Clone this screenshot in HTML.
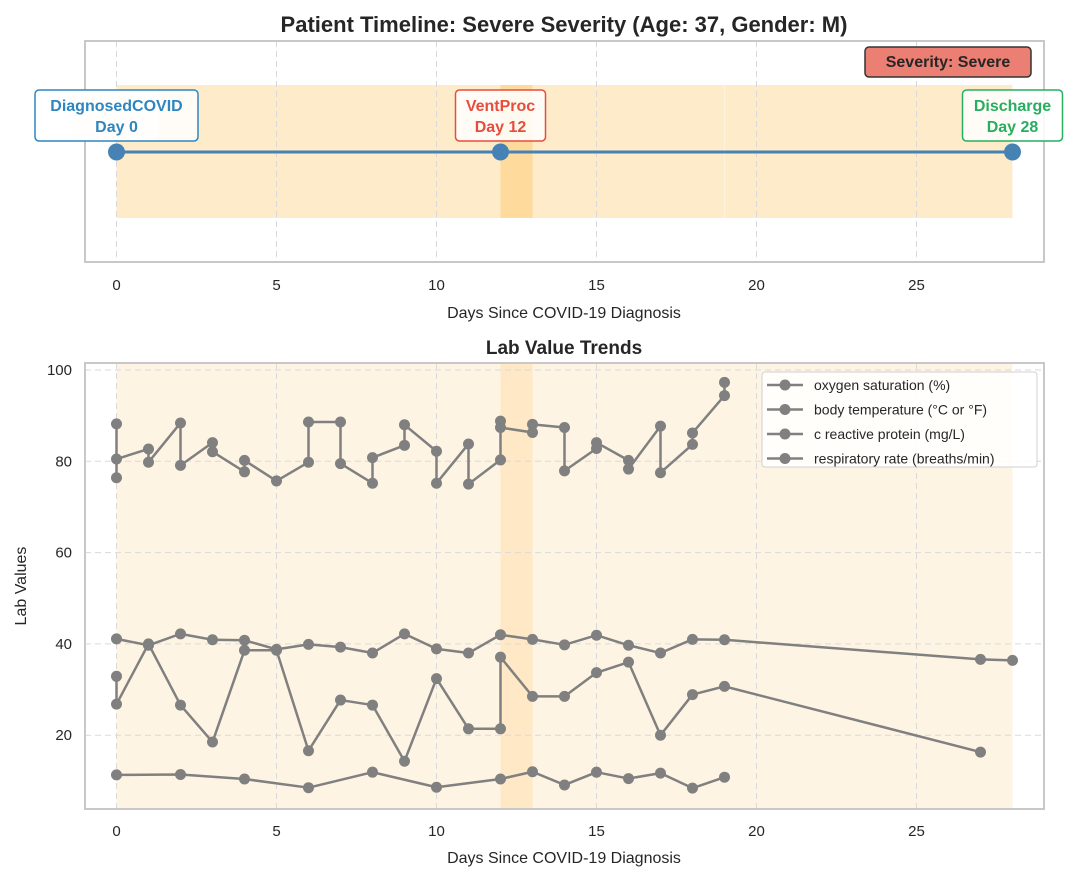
<!DOCTYPE html>
<html><head><meta charset="utf-8">
<style>
body{margin:0;background:#fff;}
svg{display:block;font-family:"Liberation Sans",Arial,sans-serif;}
</style></head>
<body>
<svg id="chart" width="1068" height="880" viewBox="0 0 1068 880">
<text x="564" y="32" text-anchor="middle" font-size="22" font-weight="bold" fill="#262626">Patient Timeline: Severe Severity (Age: 37, Gender: M)</text>
<g id="topPanel"></g>
<g id="bottomPanel"></g>
</svg>
<script>
const xTicks = [0,5,10,15,20,25];
const yTicks = [20,40,60,80,100];
const eventDays = [0,12,28];
const eventNames = ["DiagnosedCOVID","VentProc","Discharge"];
const procStart = [12];
const procEnd = [13];
const seriesNames = ["oxygen saturation (%)","body temperature (°C or °F)","c reactive protein (mg/L)","respiratory rate (breaths/min)"];
const s1Days = [0,0,0,1,1,2,2,3,3,4,4,5,6,6,7,7,8,8,9,9,10,10,11,11,12,12,12,13,13,14,14,15,15,16,16,17,17,18,18,19,19];
const s1Vals = [88.2,76.4,80.5,82.7,79.8,88.4,79.1,84.1,82.1,77.7,80.2,75.7,79.8,88.6,88.6,79.5,75.2,80.8,83.5,88,82.2,75.2,83.8,75,80.3,88.8,87.4,86.3,88.1,87.4,77.9,82.8,84.1,80.2,78.3,87.7,77.5,83.7,86.2,94.4,97.3];
const s2Days = [0,1,2,3,4,5,6,7,8,9,10,11,12,13,14,15,16,17,18,19,27,28];
const s2Vals = [41.1,39.7,42.2,40.9,40.8,38.8,39.9,39.3,38.0,42.2,38.9,38.0,42.0,41.0,39.8,41.9,39.7,38.0,41.0,40.9,36.6,36.4];
const s3Days = [0,0,1,2,3,4,5,6,7,8,9,10,11,12,12,13,14,15,16,17,18,19,27];
const s3Vals = [32.9,26.8,40.0,26.6,18.5,38.6,38.6,16.6,27.7,26.6,14.3,32.4,21.4,21.4,37.1,28.5,28.5,33.7,36.0,20.0,28.9,30.7,16.3];
const s4Days = [0,2,4,6,8,10,12,13,14,15,16,17,18,19];
const s4Vals = [11.3,11.4,10.4,8.5,11.9,8.6,10.4,12.0,9.1,11.9,10.5,11.7,8.4,10.8];

const NS="http://www.w3.org/2000/svg";
function mk(tag,attrs,parent){const e=document.createElementNS(NS,tag);for(const k in attrs)e.setAttribute(k,attrs[k]);parent.appendChild(e);return e;}
const x=d=>116.5+d*32;
const topG=document.getElementById('topPanel'), botG=document.getElementById('bottomPanel');
const yB=v=>826.5-v*4.565;

// ---- TOP PANEL ----
let r=mk('rect',{x:85,y:41,width:959,height:221,fill:'#fff',stroke:'none'},topG);


r=mk('rect',{x:x(0),y:85,width:x(28)-x(0),height:133,fill:'#feebc9'},topG);


procStart.forEach((s,i)=>{const b=mk('rect',{x:x(s),y:85,width:x(procEnd[i])-x(s),height:133,fill:'#fedb9c'},topG);

});
mk('line',{x1:x(19),y1:85,x2:x(19),y2:218,stroke:'#fff3de','stroke-width':1},topG);
xTicks.forEach(t=>{const g=mk('line',{x1:x(t),y1:41,x2:x(t),y2:262,stroke:'#d8d8d8','stroke-dasharray':'6,4','stroke-width':1},topG);


const tl=mk('text',{x:x(t),y:290,'text-anchor':'middle','font-size':15,fill:'#262626'},topG);tl.textContent=t;

});
r=mk('rect',{x:85,y:41,width:959,height:221,fill:'none',stroke:'#c8c8c8','stroke-width':2},topG);
let ln=mk('line',{x1:x(eventDays[0]),y1:152,x2:x(eventDays[eventDays.length-1]),y2:152,stroke:'#4682b4','stroke-width':3},topG);


const evColors=['#2e86c1','#e74c3c','#27ae60'];
mk('rect',{x:73,y:90,width:86,height:51,rx:4,fill:'#fff8ec',stroke:'#fde6c0','stroke-width':1},topG);
eventDays.forEach((d,i)=>{
 const c=mk('circle',{cx:x(d),cy:152,r:8.5,fill:'#4682b4'},topG);
 
 
 const w=i===0?163:(i===1?90:100);
 const b=mk('rect',{x:x(d)-w/2,y:90,width:w,height:51,rx:4,fill:'rgba(255,255,255,0.85)',stroke:evColors[i],'stroke-width':1.5},topG);
 
 
 const t1=mk('text',{x:x(d),y:111,'text-anchor':'middle','font-size':16,'font-weight':'bold',fill:evColors[i]},topG);t1.textContent=eventNames[i];
 
 
 const t2=mk('text',{x:x(d),y:132,'text-anchor':'middle','font-size':16,'font-weight':'bold',fill:evColors[i]},topG);t2.textContent='Day '+d;
 
 
});
r=mk('rect',{x:865,y:47,width:166,height:30,rx:4,fill:'#ec7f73',stroke:'#333','stroke-width':1.5},topG);


let st=mk('text',{x:948,y:67,'text-anchor':'middle','font-size':16,'font-weight':'bold',fill:'#262626'},topG);st.textContent='Severity: Severe';


let xl=mk('text',{x:564,y:318,'text-anchor':'middle','font-size':16,fill:'#262626'},topG);xl.textContent='Days Since COVID-19 Diagnosis';



// ---- BOTTOM PANEL ----
let bt=mk('text',{x:564,y:354,'text-anchor':'middle','font-size':19,'font-weight':'bold',fill:'#262626'},botG);bt.textContent='Lab Value Trends';


r=mk('rect',{x:x(0),y:363,width:x(28)-x(0),height:446,fill:'#fef4e3'},botG);


procStart.forEach((s,i)=>{const b=mk('rect',{x:x(s),y:363,width:x(procEnd[i])-x(s),height:446,fill:'#fee8c6'},botG);

});
xTicks.forEach(t=>{const g=mk('line',{x1:x(t),y1:363,x2:x(t),y2:809,stroke:'#dadada','stroke-dasharray':'6,4'},botG);


const tl=mk('text',{x:x(t),y:836,'text-anchor':'middle','font-size':15,fill:'#262626'},botG);tl.textContent=t;

});
yTicks.forEach(t=>{const g=mk('line',{x1:85,y1:yB(t),x2:1044,y2:yB(t),stroke:'#dadada','stroke-dasharray':'6,4'},botG);


const tl=mk('text',{x:72,y:yB(t)+5,'text-anchor':'end','font-size':15,fill:'#262626'},botG);tl.textContent=t;

});
r=mk('rect',{x:85,y:363,width:959,height:446,fill:'none',stroke:'#c8c8c8','stroke-width':2},botG);
const allDays=[s1Days,s2Days,s3Days,s4Days], allVals=[s1Vals,s2Vals,s3Vals,s4Vals];
allDays.forEach((ds,si)=>{
 const pts=ds.map((d,i)=>x(d)+','+yB(allVals[si][i])).join(' ');
 const pl=mk('polyline',{points:pts,fill:'none',stroke:'#808080','stroke-width':2.5,'stroke-linejoin':'round'},botG);
 
 
 ds.forEach((d,i)=>{const c=mk('circle',{cx:x(d),cy:yB(allVals[si][i]),r:5.5,fill:'#808080'},botG);
 
 });
});
let yl=mk('text',{x:0,y:0,'text-anchor':'middle','font-size':16,fill:'#262626',transform:'translate(26,586) rotate(-90)'},botG);yl.textContent='Lab Values';


xl=mk('text',{x:564,y:863,'text-anchor':'middle','font-size':16,fill:'#262626'},botG);xl.textContent='Days Since COVID-19 Diagnosis';


const lg=mk('g',{},botG);


mk('rect',{x:762,y:372,width:275,height:95,rx:3,fill:'rgba(255,255,255,0.85)',stroke:'#d0d0d0'},lg);
seriesNames.forEach((n,i)=>{
 const yy=385+i*24.5;
 const e=mk('g',{},lg);
 
 
 mk('line',{x1:767,y1:yy,x2:803,y2:yy,stroke:'#808080','stroke-width':2.5},e);
 mk('circle',{cx:785,cy:yy,r:5.5,fill:'#808080'},e);
 const t=mk('text',{x:814,y:yy+5,'font-size':14,fill:'#262626'},e);t.textContent=n;
});
</script>
</body></html>
